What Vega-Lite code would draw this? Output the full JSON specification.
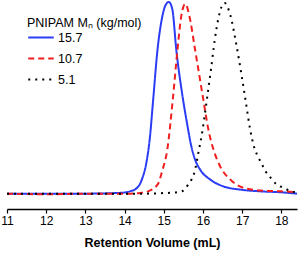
{
  "$schema": "https://vega.github.io/schema/vega-lite/v6.json",
  "width": 290,
  "height": 209,
  "autosize": "none",
  "padding": {"left": 7, "top": 0, "right": 2, "bottom": 45},
  "config": {"view": {"stroke": null}, "font": "Liberation Sans"},
  "data": {"values": [
    {"s":"15.7","x":11,"v":0},{"s":"15.7","x":12,"v":0},{"s":"15.7","x":13,"v":0},{"s":"15.7","x":13.6,"v":0.002},{"s":"15.7","x":14.0,"v":0.006},{"s":"15.7","x":14.15,"v":0.013},{"s":"15.7","x":14.26,"v":0.021},{"s":"15.7","x":14.44,"v":0.073},{"s":"15.7","x":14.57,"v":0.177},{"s":"15.7","x":14.64,"v":0.28},{"s":"15.7","x":14.73,"v":0.49},{"s":"15.7","x":14.84,"v":0.75},{"s":"15.7","x":14.95,"v":0.91},{"s":"15.7","x":15.05,"v":0.985},{"s":"15.7","x":15.13,"v":1.0},{"s":"15.7","x":15.22,"v":0.96},{"s":"15.7","x":15.32,"v":0.75},{"s":"15.7","x":15.47,"v":0.52},{"s":"15.7","x":15.6,"v":0.36},{"s":"15.7","x":15.7,"v":0.25},{"s":"15.7","x":15.8,"v":0.177},{"s":"15.7","x":15.93,"v":0.125},{"s":"15.7","x":16.19,"v":0.073},{"s":"15.7","x":16.52,"v":0.038},{"s":"15.7","x":16.96,"v":0.021},{"s":"15.7","x":17.47,"v":0.012},{"s":"15.7","x":18.0,"v":0.007},{"s":"15.7","x":18.4,"v":0.0},
    {"s":"10.7","x":11,"v":0},{"s":"10.7","x":12,"v":-0.003},{"s":"10.7","x":13,"v":0},{"s":"10.7","x":14.0,"v":0.0},{"s":"10.7","x":14.4,"v":0.004},{"s":"10.7","x":14.6,"v":0.012},{"s":"10.7","x":14.84,"v":0.047},{"s":"10.7","x":14.97,"v":0.125},{"s":"10.7","x":15.09,"v":0.229},{"s":"10.7","x":15.23,"v":0.49},{"s":"10.7","x":15.35,"v":0.75},{"s":"10.7","x":15.45,"v":0.93},{"s":"10.7","x":15.55,"v":0.99},{"s":"10.7","x":15.65,"v":0.93},{"s":"10.7","x":15.8,"v":0.75},{"s":"10.7","x":16.01,"v":0.49},{"s":"10.7","x":16.14,"v":0.333},{"s":"10.7","x":16.27,"v":0.229},{"s":"10.7","x":16.44,"v":0.142},{"s":"10.7","x":16.7,"v":0.073},{"s":"10.7","x":17.03,"v":0.031},{"s":"10.7","x":17.47,"v":0.016},{"s":"10.7","x":18.0,"v":0.012},{"s":"10.7","x":18.4,"v":0.008},
    {"s":"5.1","x":11,"v":0},{"s":"5.1","x":12,"v":0},{"s":"5.1","x":13,"v":0},{"s":"5.1","x":14.5,"v":0},{"s":"5.1","x":15.0,"v":0.003},{"s":"5.1","x":15.3,"v":0.006},{"s":"5.1","x":15.46,"v":0.012},{"s":"5.1","x":15.62,"v":0.047},{"s":"5.1","x":15.8,"v":0.125},{"s":"5.1","x":15.88,"v":0.21},{"s":"5.1","x":15.97,"v":0.307},{"s":"5.1","x":16.1,"v":0.49},{"s":"5.1","x":16.2,"v":0.64},{"s":"5.1","x":16.3,"v":0.8},{"s":"5.1","x":16.4,"v":0.92},{"s":"5.1","x":16.55,"v":0.995},{"s":"5.1","x":16.7,"v":0.93},{"s":"5.1","x":16.85,"v":0.78},{"s":"5.1","x":17.0,"v":0.6},{"s":"5.1","x":17.1,"v":0.47},{"s":"5.1","x":17.2,"v":0.34},{"s":"5.1","x":17.29,"v":0.255},{"s":"5.1","x":17.38,"v":0.203},{"s":"5.1","x":17.49,"v":0.16},{"s":"5.1","x":17.6,"v":0.116},{"s":"5.1","x":17.73,"v":0.082},{"s":"5.1","x":17.86,"v":0.052},{"s":"5.1","x":18.06,"v":0.03},{"s":"5.1","x":18.26,"v":0.012},{"s":"5.1","x":18.4,"v":0.006}
  ]},
  "mark": {"type": "line", "interpolate": "monotone", "strokeWidth": 2, "clip": true},
  "encoding": {
    "x": {"field": "x", "type": "quantitative",
      "scale": {"domain": [11, 18.4], "nice": false, "zero": false},
      "axis": {"title": "Retention Volume (mL)", "values": [11,11.5,12,12.5,13,13.5,14,14.5,15,15.5,16,16.5,17,17.5,18],
        "format": "d",
        "labelExpr": "datum.value % 1 === 0 ? datum.label : ''", "labelOverlap": false, "labelFlush": false,
        "tickSize": {"condition": {"test": "datum.value % 1 !== 0", "value": 2}, "value": 4},
        "grid": false, "domainColor": "black", "domainWidth": 1.5, "tickColor": "black", "tickWidth": 1.2,
        "labelFont": "Liberation Sans", "labelFontSize": 12, "labelColor": "black", "labelPadding": 2,
        "titleFont": "Liberation Sans", "titleFontSize": 12.5, "titleFontWeight": "bold", "titleColor": "black", "titlePadding": 10}},
    "y": {"field": "v", "type": "quantitative", "scale": {"domain": [-0.08, 1.01], "nice": false, "zero": false}, "axis": null},
    "color": {"field": "s", "type": "nominal",
      "scale": {"domain": ["15.7", "10.7", "5.1"], "range": ["#2b3cf5", "#f01e1e", "#000000"]},
      "legend": {"title": "PNIPAM Mₙ (kg/mol)", "orient": "none", "legendX": 20, "legendY": 17,
        "symbolType": "stroke", "symbolSize": 650, "symbolStrokeWidth": 2, "labelFontSize": 12.5, "labelColor": "black",
        "titleFontSize": 12.5, "titleFontWeight": "normal", "titleColor": "black", "titleFont": "Liberation Sans", "labelFont": "Liberation Sans",
        "rowPadding": -10, "padding": 0, "titlePadding": -6, "labelOffset": 3}},
    "strokeDash": {"field": "s", "type": "nominal",
      "scale": {"domain": ["15.7", "10.7", "5.1"], "range": [[1, 0], [6, 4], [2, 5]]},
      "legend": {"title": "PNIPAM Mₙ (kg/mol)"}}
  }
}
